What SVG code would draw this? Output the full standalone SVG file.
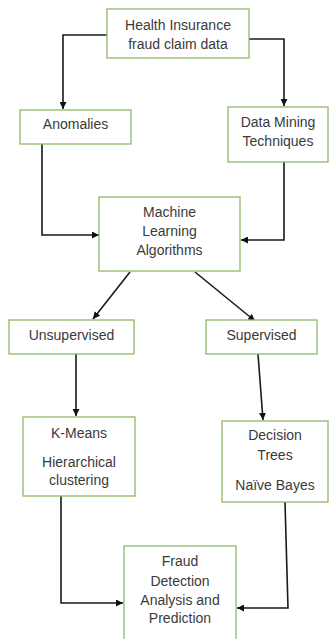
<svg xmlns="http://www.w3.org/2000/svg" width="330" height="639" viewBox="0 0 330 639">
<defs>
<style>
.box{fill:#fff;stroke:#8fb866;stroke-width:1.3}
.t{font-family:"Liberation Sans",Arial,sans-serif;font-size:14px;fill:#3a3a3a;text-anchor:middle}
.c{fill:none;stroke:#1a1a1a;stroke-width:1.6}
</style>
<marker id="ah" viewBox="0 0 10 10" refX="10" refY="5" markerWidth="7" markerHeight="7" markerUnits="userSpaceOnUse" orient="auto"><path d="M0,0L10,5L0,10z" fill="#111"/></marker>
</defs>
<rect width="330" height="639" fill="#fff"/>
<g id="connectors">
<path class="c" d="M107,35H63V109" marker-end="url(#ah)"/>
<path class="c" d="M249,39H284V106" marker-end="url(#ah)"/>
<path class="c" d="M42,144V235H99" marker-end="url(#ah)"/>
<path class="c" d="M284,162V240H241" marker-end="url(#ah)"/>
<path class="c" d="M130,272L93,319" marker-end="url(#ah)"/>
<path class="c" d="M195,272L255,321" marker-end="url(#ah)"/>
<path class="c" d="M76,354V416" marker-end="url(#ah)"/>
<path class="c" d="M258,354L263,420" marker-end="url(#ah)"/>
<path class="c" d="M61,496V603H123" marker-end="url(#ah)"/>
<path class="c" d="M285,502L288,608H237" marker-end="url(#ah)"/>
</g>
<g id="n1"><rect class="box" x="107" y="9" width="142" height="49"/><text class="t" x="178" y="30">Health Insurance</text><text class="t" x="178" y="49">fraud claim data</text></g>
<g id="n2"><rect class="box" x="20" y="110" width="111" height="34"/><text class="t" x="75.5" y="129">Anomalies</text></g>
<g id="n3"><rect class="box" x="228" y="107" width="100" height="55"/><text class="t" x="278" y="127">Data Mining</text><text class="t" x="278" y="146">Techniques</text></g>
<g id="n4"><rect class="box" x="99" y="197" width="141" height="74"/><text class="t" x="169.5" y="217">Machine</text><text class="t" x="169.5" y="236">Learning</text><text class="t" x="169.5" y="255">Algorithms</text></g>
<g id="n5"><rect class="box" x="9" y="320" width="125" height="34"/><text class="t" x="71.5" y="340">Unsupervised</text></g>
<g id="n6"><rect class="box" x="206" y="320" width="111" height="34"/><text class="t" x="261.5" y="340">Supervised</text></g>
<g id="n7"><rect class="box" x="23" y="417" width="112" height="79"/><text class="t" x="79" y="438">K-Means</text><text class="t" x="79" y="467">Hierarchical</text><text class="t" x="79" y="485">clustering</text></g>
<g id="n8"><rect class="box" x="222" y="421" width="106" height="81"/><text class="t" x="275" y="440">Decision</text><text class="t" x="275" y="460">Trees</text><text class="t" x="275" y="490">Naïve Bayes</text></g>
<g id="n9"><rect class="box" x="124" y="546" width="112" height="100"/><text class="t" x="180" y="566">Fraud</text><text class="t" x="180" y="586">Detection</text><text class="t" x="180" y="605">Analysis and</text><text class="t" x="180" y="623">Prediction</text></g>
</svg>
